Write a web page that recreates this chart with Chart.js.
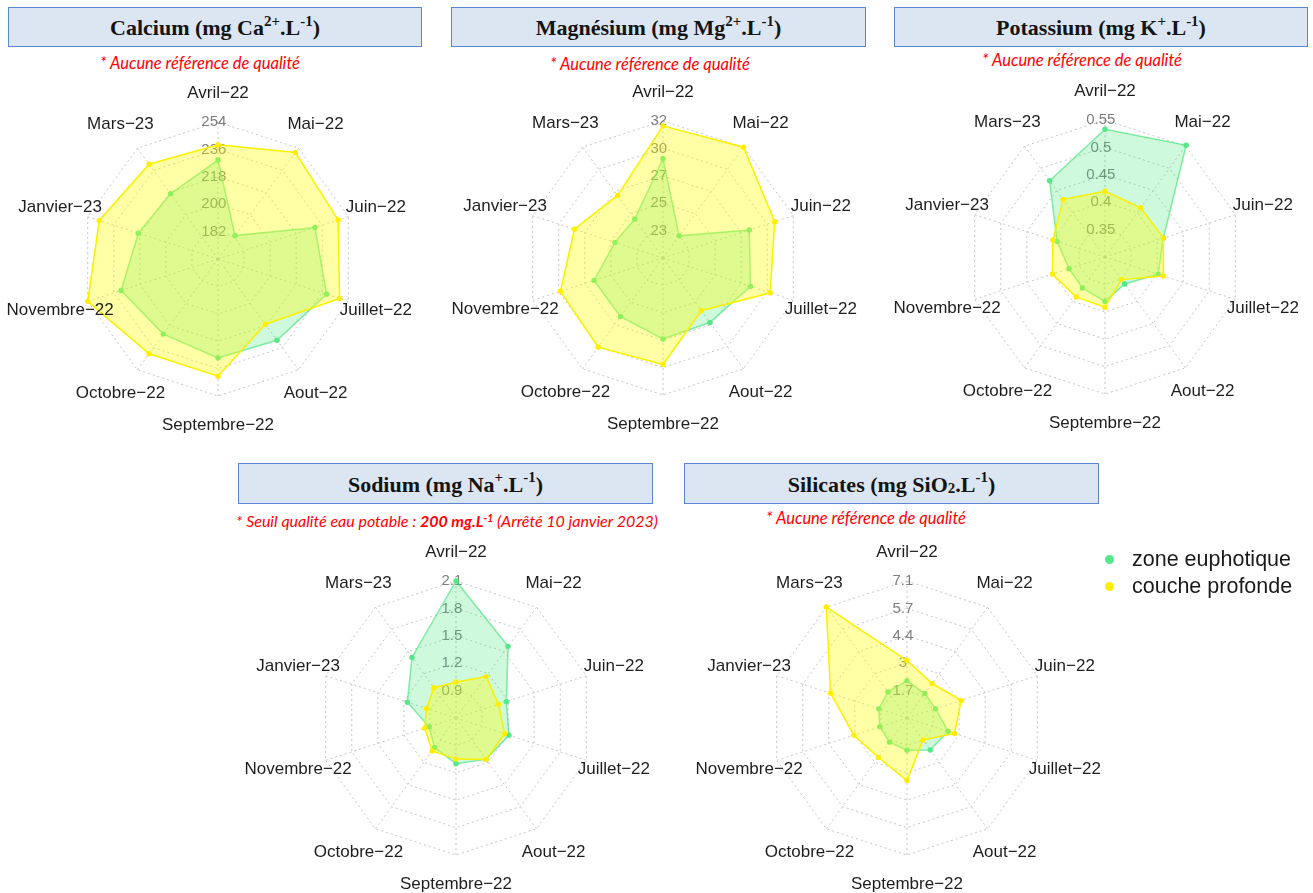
<!DOCTYPE html>
<html lang="fr">
<head>
<meta charset="utf-8">
<script src="https://cdn.jsdelivr.net/npm/chart.js@4.4.1/dist/chart.umd.min.js"></script>
<style>
html,body{margin:0;padding:0;background:#fff;}
body{width:1313px;height:893px;position:relative;overflow:hidden;font-family:'Liberation Sans',Arial,sans-serif;}
.title{position:absolute;box-sizing:border-box;height:40px;background:#dce6f2;border:1px solid #5a86d4;
  display:flex;align-items:center;justify-content:center;font-family:'Liberation Serif','Times New Roman',serif;
  font-weight:bold;font-size:22px;color:#141414;white-space:nowrap;padding-top:2px;}
.title sup{font-size:0.68em;position:relative;top:-0.5em;line-height:0;vertical-align:baseline;}
.title sub{font-size:0.68em;position:relative;top:0.25em;line-height:0;vertical-align:baseline;}
.note{position:absolute;color:#ff0000;font-family:Lato,'Open Sans',sans-serif;font-style:italic;font-size:16.5px;
  white-space:nowrap;transform:translate(-50%,-50%);}
.note sup{font-size:0.65em;position:relative;top:-0.5em;line-height:0;vertical-align:baseline;}
canvas{position:absolute;}
.legend{position:absolute;left:1104px;top:546px;font-family:'Liberation Sans',Arial,sans-serif;font-size:21.5px;color:#1a1a1a;}
.legend div{position:relative;height:26.5px;line-height:26.5px;padding-left:28px;white-space:nowrap;}
.legend span{position:absolute;left:1px;top:9px;width:9px;height:9px;border-radius:50%;}
</style>
</head>
<body>

<div class="title" style="left:8px;top:7px;width:414px;">Calcium (mg Ca<sup>2+</sup>.L<sup>-1</sup>)</div>
<div class="title" style="left:451px;top:7px;width:415px;">Magnésium (mg Mg<sup>2+</sup> .L<sup>-1</sup>)</div>
<div class="title" style="left:894px;top:7px;width:414px;">Potassium (mg K<sup>+</sup> .L<sup>-1</sup>)</div>
<div class="title" style="left:238px;top:463px;width:415px;height:41px;">Sodium (mg Na<sup>+</sup> .L<sup>-1</sup>)</div>
<div class="title" style="left:684px;top:463px;width:415px;height:41px;">Silicates (mg SiO<sub>2</sub> .L<sup>-1</sup>)</div>

<div class="note" style="left:200px;top:63px;">* Aucune référence de qualité</div>
<div class="note" style="left:650px;top:64px;">* Aucune référence de qualité</div>
<div class="note" style="left:1082px;top:60px;">* Aucune référence de qualité</div>
<div class="note" style="left:447px;top:520px;font-size:16px;">* Seuil qualité eau potable : <b>200 mg.L<sup>-1</sup></b> (Arrêté 10 janvier 2023)</div>
<div class="note" style="left:866px;top:518px;">* Aucune référence de qualité</div>

<canvas id="ca" width="440" height="440"></canvas>
<canvas id="mg" width="440" height="440"></canvas>
<canvas id="k" width="440" height="440"></canvas>
<canvas id="na" width="440" height="440"></canvas>
<canvas id="si" width="440" height="440"></canvas>

<div class="legend">
  <div><span style="background:#55e88a"></span>zone euphotique</div>
  <div><span style="background:#ffee00"></span>couche profonde</div>
</div>

<script>
// ---- data ----
const categories = ['Avril−22','Mai−22','Juin−22','Juillet−22','Aout−22','Septembre−22','Octobre−22','Novembre−22','Janvier−23','Mars−23'];
const seriesNames = ['zone euphotique','couche profonde'];

const calciumEuphotique = [229, 183, 231, 239, 230, 229, 225, 231, 219, 217];
const calciumProfonde   = [239, 250.5, 247, 248, 217, 241, 241, 254, 246, 241];
const calciumTicks      = [182, 200, 218, 236, 254];
const calciumTickLabels = ['182','200','218','236','254'];

const magnesiumEuphotique = [28.8, 22.9, 28.1, 28.2, 27.2, 27.3, 26.6, 26.6, 24.8, 24.6];
const magnesiumProfonde   = [31.5, 31.9, 30.3, 29.9, 26.0, 29.4, 29.7, 29.5, 28.3, 27.0];
const magnesiumTicks      = [22.9, 25.15, 27.4, 29.65, 31.9];
const magnesiumTickLabels = ['23','25','27','30','32'];

const potassiumEuphotique = [0.533, 0.552, 0.412, 0.402, 0.361, 0.381, 0.370, 0.369, 0.392, 0.472];
const potassiumProfonde   = [0.420, 0.411, 0.412, 0.412, 0.351, 0.392, 0.390, 0.401, 0.400, 0.430];
const potassiumTicks      = [0.35, 0.40, 0.45, 0.50, 0.55];
const potassiumTickLabels = ['0.35','0.4','0.45','0.5','0.55'];

const sodiumEuphotique = [2.10, 1.57, 1.18, 1.21, 1.16, 1.10, 1.00, 0.91, 1.16, 1.42];
const sodiumProfonde   = [0.995, 1.16, 1.09, 1.16, 1.16, 1.05, 1.045, 0.96, 0.94, 1.01];
const sodiumTicks      = [0.9, 1.2, 1.5, 1.8, 2.1];
const sodiumTickLabels = ['0.9','1.2','1.5','1.8','2.1'];

const silicatesEuphotique = [2.19, 1.84, 1.83, 2.48, 2.30, 1.94, 1.82, 1.76, 1.81, 1.94];
const silicatesProfonde   = [3.18, 2.45, 3.16, 2.81, 1.69, 3.43, 2.75, 3.10, 4.31, 7.12];
const silicatesTicks      = [1.7, 3.05, 4.4, 5.75, 7.1];
const silicatesTickLabels = ['1.7','3','4.4','5.7','7.1'];

// ---- layout (positions only) ----
const CANVAS = 440, RADIUS = 137, TICK_FONT = 15, TICK_PAD = 4;
const panels = [
  {id:'ca', cx:218, cy:259, eu:calciumEuphotique,   pr:calciumProfonde,   ticks:calciumTicks,   labels:calciumTickLabels},
  {id:'mg', cx:663, cy:258, eu:magnesiumEuphotique, pr:magnesiumProfonde, ticks:magnesiumTicks, labels:magnesiumTickLabels},
  {id:'k',  cx:1105, cy:257, eu:potassiumEuphotique, pr:potassiumProfonde, ticks:potassiumTicks, labels:potassiumTickLabels},
  {id:'na', cx:456, cy:718, eu:sodiumEuphotique,    pr:sodiumProfonde,    ticks:sodiumTicks,    labels:sodiumTickLabels},
  {id:'si', cx:907, cy:718, eu:silicatesEuphotique, pr:silicatesProfonde, ticks:silicatesTicks, labels:silicatesTickLabels}
];

const GREEN_PT = '#55e88a', GREEN_LINE = 'rgba(70,226,120,0.65)', GREEN_FILL = 'rgba(60,230,120,0.25)';
const YEL_PT = '#ffee00', YEL_LINE = '#f9f000', YEL_FILL = 'rgba(255,255,0,0.35)';

const centeredPointLabels = {
  id: 'centeredPointLabels',
  afterDraw(chart) {
    const s = chart.scales.r, ctx = chart.ctx;
    ctx.save();
    ctx.font = '17px "Liberation Sans", Arial, sans-serif';
    ctx.fillStyle = '#1e1e1e';
    ctx.textAlign = 'center';
    ctx.textBaseline = 'middle';
    chart.data.labels.forEach((lab, i) => {
      const p = s.getPointPosition(i, s.drawingArea + 29);
      ctx.fillText(lab, p.x, p.y);
    });
    ctx.restore();
  }
};

panels.forEach(p => {
  const cv = document.getElementById(p.id);
  cv.style.left = (p.cx - CANVAS/2) + 'px';
  cv.style.top = (p.cy - CANVAS/2) + 'px';
  const lo = p.ticks[0], hi = p.ticks[p.ticks.length-1];
  const center = lo - (hi - lo) / 4;
  const tickValues = [center].concat(p.ticks);
  new Chart(cv, {
    type: 'radar',
    data: {
      labels: categories,
      datasets: [
        {label: seriesNames[0], data: p.eu, order: 1, fill: true, clip: false,
         borderColor: GREEN_LINE, backgroundColor: GREEN_FILL, borderWidth: 1.5,
         pointBackgroundColor: GREEN_PT, pointBorderColor: GREEN_PT, pointBorderWidth: 0, pointRadius: 2.7},
        {label: seriesNames[1], data: p.pr, order: 0, fill: true, clip: false,
         borderColor: YEL_LINE, backgroundColor: YEL_FILL, borderWidth: 1.5,
         pointBackgroundColor: YEL_PT, pointBorderColor: YEL_PT, pointBorderWidth: 0, pointRadius: 2.7}
      ]
    },
    options: {
      responsive: false,
      animation: false,
      devicePixelRatio: 1,
      // the radial scale reserves half the tick font + backdrop padding on each side
      layout: {padding: CANVAS/2 - RADIUS - (TICK_FONT + TICK_PAD)/2},
      elements: {line: {tension: 0}},
      plugins: {legend: {display: false}, tooltip: {enabled: false}},
      scales: {
        r: {
          min: center,
          max: hi,
          startAngle: 0,
          afterBuildTicks: (scale) => { scale.ticks = tickValues.map(v => ({value: v})); },
          ticks: {
            display: true,
            showLabelBackdrop: false,
            backdropPadding: TICK_PAD/2,
            color: '#7d7d7d',
            font: {family: '"Liberation Sans", Arial, sans-serif', size: TICK_FONT},
            callback: (v, i) => i === 0 ? '' : p.labels[i-1] + '  '
          },
          pointLabels: {display: false},
          grid: {color: '#c4c4c4', lineWidth: 1},
          border: {dash: [2, 3]},
          angleLines: {display: true, color: '#c4c4c4', lineWidth: 1, borderDash: [2, 3]}
        }
      }
    },
    plugins: [centeredPointLabels]
  });
});
</script>
</body>
</html>
